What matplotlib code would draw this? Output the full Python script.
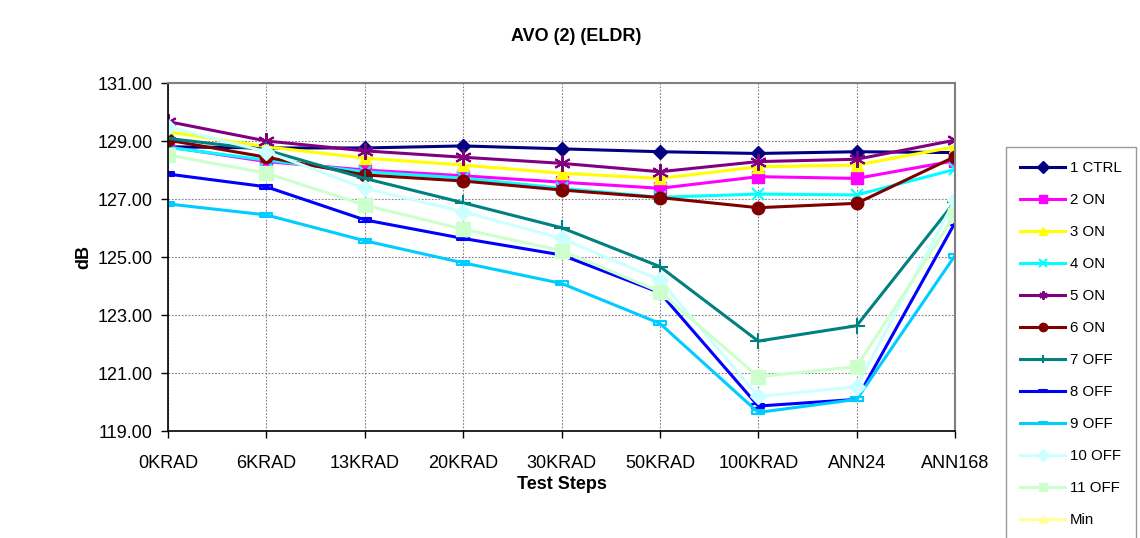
import matplotlib
matplotlib.use("Agg")
import matplotlib.pyplot as plt
from matplotlib.path import Path

plt.rcParams['font.family'] = ['Liberation Sans', 'DejaVu Sans']

steps = ["0KRAD", "6KRAD", "13KRAD", "20KRAD", "30KRAD", "50KRAD",
         "100KRAD", "ANN24", "ANN168"]

ctrl_1 = [128.80, 128.76, 128.76, 128.83, 128.73, 128.63, 128.57, 128.63, 128.60]
on_2   = [128.80, 128.29, 128.00, 127.80, 127.58, 127.37, 127.77, 127.71, 128.32]
on_3   = [129.32, 128.80, 128.41, 128.17, 127.89, 127.71, 128.11, 128.17, 128.80]
on_4   = [128.78, 128.34, 127.94, 127.72, 127.37, 127.06, 127.17, 127.14, 128.02]
on_5   = [129.67, 129.00, 128.66, 128.44, 128.23, 127.94, 128.29, 128.37, 129.03]
on_6   = [129.03, 128.44, 127.83, 127.62, 127.31, 127.05, 126.70, 126.85, 128.46]
off_7  = [129.09, 128.69, 127.71, 126.87, 126.01, 124.67, 122.10, 122.63, 126.91]
off_8  = [127.86, 127.42, 126.28, 125.64, 125.07, 123.77, 119.86, 120.09, 126.18]
off_9  = [126.83, 126.45, 125.56, 124.80, 124.09, 122.71, 119.64, 120.09, 125.05]
off_10 = [129.49, 128.63, 127.37, 126.56, 125.64, 124.21, 120.19, 120.53, 126.97]
off_11 = [128.52, 127.89, 126.79, 125.96, 125.22, 123.80, 120.87, 121.22, 126.45]
min_vals = []  # shown only in the legend

labels = ["1 CTRL", "2 ON", "3 ON", "4 ON", "5 ON", "6 ON", "7 OFF",
          "8 OFF", "9 OFF", "10 OFF", "11 OFF", "Min"]
y_ticks = [119, 121, 123, 125, 127, 129, 131]

dash = Path([(-1, -0.35), (1, -0.35), (1, 0.35), (-1, 0.35), (-1, -0.35)],
            [Path.MOVETO, Path.LINETO, Path.LINETO, Path.LINETO, Path.CLOSEPOLY])

styles = [
    dict(color="#000080", marker="D", ms=7),
    dict(color="#FF00FF", marker="s", ms=8),
    dict(color="#FFFF00", marker="^", ms=9),
    dict(color="#00FFFF", marker="x", ms=9, mew=1.5),
    dict(color="#800080", marker=(6, 2, 0), ms=12, mew=1.5),
    dict(color="#800000", marker="o", ms=9),
    dict(color="#008080", marker="+", ms=11, mew=1.5),
    dict(color="#0000FF", marker=dash, ms=8, mfc="none", mew=1.5),
    dict(color="#00CCFF", marker=dash, ms=8, mfc="none", mew=1.5),
    dict(color="#CCFFFF", marker="D", ms=8),
    dict(color="#CCFFCC", marker="s", ms=10),
    dict(color="#FFFF99", marker="^", ms=9),
]

series = [ctrl_1, on_2, on_3, on_4, on_5, on_6, off_7, off_8, off_9,
          off_10, off_11, min_vals]

fig = plt.figure(figsize=(11.4, 5.38), dpi=100)
ax = fig.add_axes([168/1140, 1-431/538, (955-168)/1140, (431-83)/538])

x = list(range(len(steps)))
handles = []
for vals, lab, st in zip(series, labels, styles):
    xs = x[:len(vals)]
    h, = ax.plot(xs, vals, color=st["color"], lw=2.2, marker=st["marker"],
                 ms=st["ms"], mfc=st.get("mfc", st["color"]),
                 mec=st["color"], mew=st.get("mew", 1.0), label=lab)
    handles.append(h)

ax.set_xlim(0, len(steps)-1)
ax.set_ylim(119, 131)
ax.set_xticks(x)
ax.set_xticklabels(steps, fontsize=13)
ax.set_yticks(y_ticks)
ax.set_yticklabels([f"{v:.2f}" for v in y_ticks], fontsize=13)
ax.tick_params(axis="y", direction="out", length=5, width=1, color="black", pad=6)
ax.tick_params(axis="x", direction="out", length=5, width=1, color="black", pad=12)
ax.grid(True, color="#808080", linestyle=(0, (1.5, 1.5)), linewidth=0.8)
ax.set_axisbelow(True)
for side in ["top", "right"]:
    ax.spines[side].set_color("#808080")
    ax.spines[side].set_linewidth(1.5)
for side in ["left", "bottom"]:
    ax.spines[side].set_color("black")
    ax.spines[side].set_linewidth(1.2)

ax.set_xlabel("Test Steps", fontsize=13, fontweight="bold", labelpad=3)
ax.set_ylabel("dB", fontsize=13, fontweight="bold", labelpad=4)
fig.text(576/1140, 1-37/538, "AVO (2) (ELDR)", fontsize=13, fontweight="bold",
         ha="center", va="center")

leg = fig.legend(handles=handles, labels=labels, loc="upper left",
                 bbox_to_anchor=(1006/1140, 1-147/538), fontsize=10.8,
                 frameon=True, fancybox=False, edgecolor="#808080",
                 labelspacing=1.2, handlelength=3.0, handletextpad=0.3,
                 borderpad=0.95, borderaxespad=0)
leg.get_frame().set_linewidth(1.0)
for lh in leg.legend_handles:
    lh.set_markersize(6)

fig.savefig("out.png", dpi=100)
